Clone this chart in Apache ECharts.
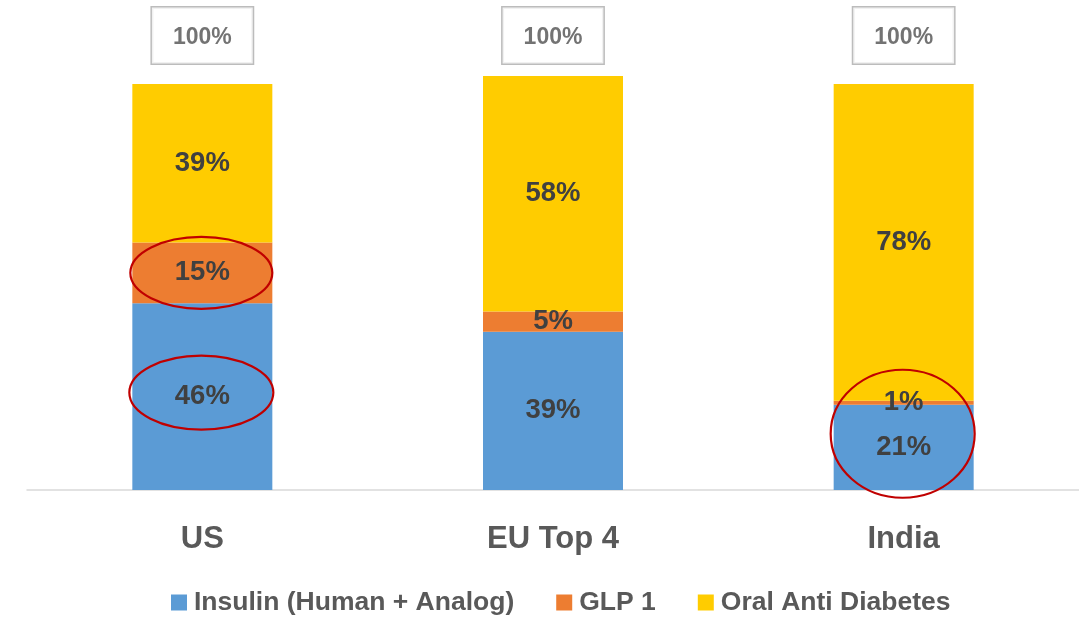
<!DOCTYPE html>
<html>
<head>
<meta charset="utf-8">
<title>Diabetes drug market share</title>
<script src="https://cdn.jsdelivr.net/npm/echarts@6/dist/echarts.min.js"></script>
<style>
  html, body { margin: 0; padding: 0; background: #ffffff; }
  #chart { width: 1079px; height: 617px; }
</style>
</head>
<body>
<div id="chart"></div>
<script>
// Market split by therapy class, in percent
var categories = ['US', 'EU Top 4', 'India'];
var insulin = [46, 39, 21];
var glp1 = [15, 5, 1];
var oral = [39, 58, 78];
var totals = [100, 100, 100];
var seriesNames = ['Insulin (Human + Analog)', 'GLP 1', 'Oral Anti Diabetes'];

var FONT = '"Liberation Sans", Arial, sans-serif';
var colors = ['#5B9BD5', '#ED7D31', '#FFCC00'];

var chart = echarts.init(document.getElementById('chart'), null, { renderer: 'canvas' });

function segLabel() {
  return {
    show: true,
    position: 'inside',
    formatter: '{c}%',
    fontFamily: FONT,
    fontWeight: 'bold',
    fontSize: 27.5,
    color: '#404040'
  };
}

function barSeries(name, data, color) {
  return {
    name: name,
    type: 'bar',
    stack: 'share',
    barWidth: 140,
    data: data,
    itemStyle: { color: color },
    label: segLabel(),
    emphasis: { disabled: true }
  };
}

chart.setOption({
  animation: false,
  color: colors,
  grid: { left: 27, right: 0, top: 76, bottom: 127 },
  legend: {
    top: 584,
    left: 166,
    itemWidth: 16,
    itemHeight: 16,
    itemGap: 42,
    icon: 'rect',
    data: seriesNames,
    textStyle: {
      fontFamily: FONT,
      fontWeight: 'bold',
      fontSize: 26.5,
      lineHeight: 26,
      color: '#595959',
      padding: [0, 0, 0, 2]
    }
  },
  xAxis: {
    type: 'category',
    data: categories,
    axisLine: { lineStyle: { color: '#D9D9D9', width: 1.5 } },
    axisTick: { show: false },
    axisLabel: {
      margin: 34,
      fontFamily: FONT,
      fontWeight: 'bold',
      fontSize: 31,
      color: '#595959'
    }
  },
  yAxis: {
    type: 'value',
    min: 0,
    max: 102,
    show: false,
    splitLine: { show: false }
  },
  series: [
    barSeries(seriesNames[0], insulin, colors[0]),
    barSeries(seriesNames[1], glp1, colors[1]),
    barSeries(seriesNames[2], oral, colors[2]),
    {
      name: 'Total',
      type: 'scatter',
      data: totals,
      symbolSize: 1,
      itemStyle: { color: 'rgba(0,0,0,0)' },
      silent: true,
      label: {
        show: true,
        position: 'top',
        distance: 20,
        formatter: '{c}%',
        fontFamily: FONT,
        fontWeight: 'bold',
        fontSize: 23,
        lineHeight: 28,
        color: '#505050',
        borderColor: '#ABABAB',
        borderWidth: 1.5,
        padding: [16, 21, 12, 21],
        backgroundColor: '#ffffff'
      }
    }
  ]
});

// Red ellipses calling out selected segments
function drawHighlights() {
  var marks = [
    { cat: 0, value: insulin[0] + glp1[0] / 2, rx: 71, ry: 36 },
    { cat: 0, value: insulin[0] / 2 + 1, rx: 72, ry: 37 },
    { cat: 2, value: (insulin[2] + glp1[2]) * 0.63, rx: 72, ry: 64 }
  ];
  var elements = marks.map(function (m) {
    var p = chart.convertToPixel({ gridIndex: 0 }, [m.cat, m.value]);
    return {
      type: 'ellipse',
      silent: true,
      z: 100,
      shape: { cx: p[0] - 1, cy: p[1], rx: m.rx, ry: m.ry },
      style: { fill: 'none', stroke: '#C00000', lineWidth: 2.2 }
    };
  });
  chart.setOption({ graphic: { elements: elements } });
}
drawHighlights();
</script>
</body>
</html>
